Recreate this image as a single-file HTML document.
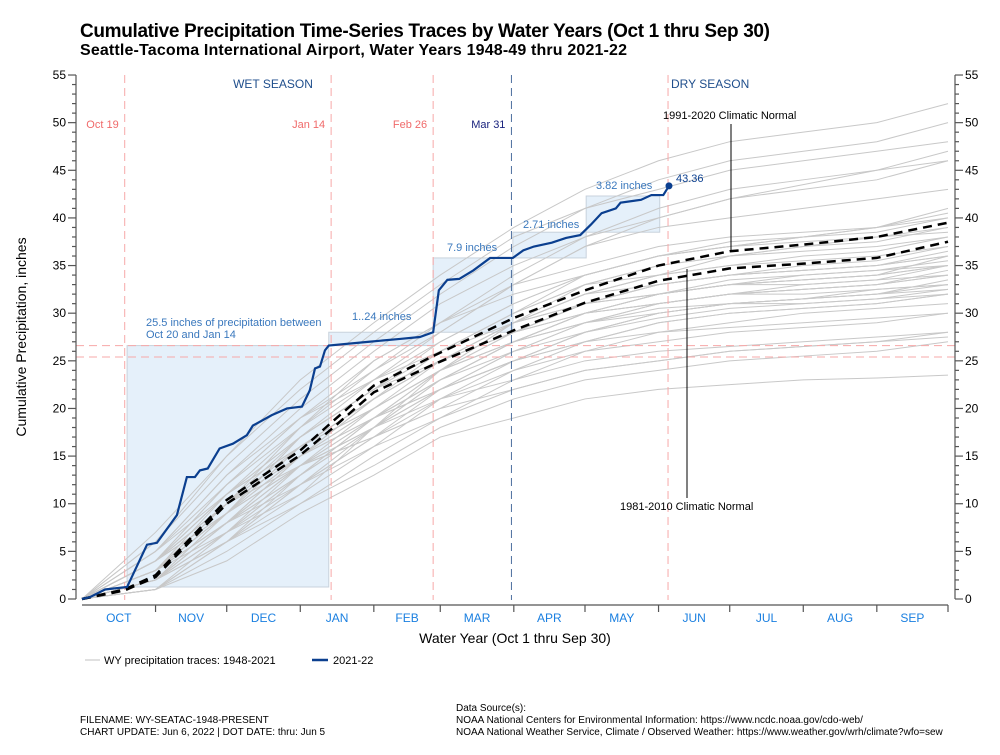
<!DOCTYPE html>
<html><head><meta charset="utf-8">
<style>
html,body{margin:0;padding:0;background:#fff;}
body{width:1000px;height:750px;overflow:hidden;font-family:"Liberation Sans",Arial,sans-serif;}
svg text{font-family:"Liberation Sans",Arial,sans-serif;}
</style></head>
<body>
<svg id="chart" width="1000" height="750" xmlns="http://www.w3.org/2000/svg">
<text x="80" y="37" font-size="19" font-weight="bold" textLength="690">Cumulative Precipitation Time-Series Traces by Water Years (Oct 1 thru Sep 30)</text>
<text x="80" y="55" font-size="16" font-weight="bold" textLength="547">Seattle-Tacoma International Airport, Water Years 1948-49 thru 2021-22</text>
<text transform="translate(26,337) rotate(-90)" text-anchor="middle" font-size="14">Cumulative Precipitation, inches</text>
<text x="515" y="643" text-anchor="middle" font-size="14">Water Year (Oct 1 thru Sep 30)</text>
<g id="layer"></g>
<g>
<line x1="85" y1="660" x2="100" y2="660" stroke="#ccc" stroke-width="1.2"/>
<text x="104" y="664" font-size="11">WY precipitation traces: 1948-2021</text>
<line x1="312" y1="660" x2="328" y2="660" stroke="#0b3f8f" stroke-width="2.5"/>
<text x="333" y="664" font-size="11">2021-22</text>
</g>
<g font-size="10">
<text x="80" y="723">FILENAME: WY-SEATAC-1948-PRESENT</text>
<text x="80" y="735">CHART UPDATE: Jun 6, 2022 | DOT DATE: thru: Jun 5</text>
<text x="456" y="711">Data Source(s):</text>
<text x="456" y="723">NOAA National Centers for Environmental Information: https://www.ncdc.noaa.gov/cdo-web/</text>
<text x="456" y="735">NOAA National Weather Service, Climate / Observed Weather: https://www.weather.gov/wrh/climate?wfo=sew</text>
</g>
</svg>
<script>
const monthDays = [0,31,61,92,123,151,182,212,243,273,304,335,365];
const monthLabels = ["OCT","NOV","DEC","JAN","FEB","MAR","APR","MAY","JUN","JUL","AUG","SEP"];
const yTicks = [0,5,10,15,20,25,30,35,40,45,50,55];
const grayTraces = [
[0,4,11,17,22,26,30,33,35,36,37,38,39],
[0,2,6,12,17,21,24,26,27,28,28.5,29,30],
[0,5,13,20,26,31,35,38,40,42,43,44,46],
[0,3,9,15,20,24,27,29,31,32,32.5,33,34],
[0,1,5,10,14,18,21,23,24,25,25.5,26,27],
[0,6,14,21,27,32,37,41,44,46,47,48,50],
[0,3,8,13,19,23,27,30,31,32,33,33.5,35],
[0,2,7,13,18,21,23,25,26,26.5,27,27.5,28],
[0,4,10,18,25,29,33,35,37,38,38.5,39,40],
[0,3,10,16,21,25,29,32,33,34,34.5,35,36],
[0,2,8,14,18,23,27,30,31,32,32,32.5,33],
[0,5,12,19,25,29,32,34,36,37,37.5,38,38.5],
[0,1,4,9,13,17,19,21,22,22.5,23,23.2,23.5],
[0,4,12,18,24,28,33,37,39,40,41,42,43],
[0,3,9,14,20,25,29,31,32,33,33.5,34,35],
[0,2,9,17,22,25,28,30,32,33,33,33.5,34],
[0,7,15,22,28,33,38,41,43,45,46,47,48],
[0,3,7,12,17,22,26,29,30.5,31,31.5,32,32.5],
[0,2,8,15,21,26,30,34,36,37,38,39,41],
[0,4,11,16,20,24,28,31,32,33,33.5,34,36],
[0,3,8,12,16,19,22,24,25,26,26.5,27,28],
[0,5,13,19,24,29,34,38,41,43,44,45,47],
[0,1,6,13,19,23,26,28,30,31,31.5,32,33],
[0,3,10,15,19,24,27,29,30,31,31,31.5,32],
[0,4,9,17,23,28,33,37,40,42,43.5,45,46],
[0,2,6,10,15,19,23,26,28,29,30,30.5,31],
[0,6,15,23,29,34,39,43,46,48,49,50,52],
[0,3,9,14,18,22,25,27,28,28.5,29,29.5,30],
[0,2,7,11,18,24,29,32,34,36,37,37.5,39],
[0,4,10,14,17,20,22,24,25,26,26.5,27,27.5],
[0,3,9,15,19,23,27,30,32,33,34,34.5,35.5],
[0,2,8,13,18,22,26,29,31,32,32.5,33,34],
[0,4,10,15,21,25,28,31,33,34,35,35.5,37],
[0,3,8,14,19,22,25,28,30,31,31.5,32,33.5],
[0,2,9,16,20,24,27,30,32,33.5,34,34.5,35],
[0,3,11,17,22,26,30,33,34,35,35.5,36,37],
[0,1,7,14,19,22,25,27,29,30,30.5,31,32],
[0,4,9,14,18,22,25,28,29.5,30.5,31,31.5,32.5],
[0,2,7,13,19,24,28,31,33,34,34.5,35,36.5],
[0,3,10,17,22,27,31,34,36,37,38,38.5,40],
[0,5,11,16,21,25,29,32,34,35,36,36.5,38],
[0,2,6,12,18,23,27,30,32,33,33.5,34,35],
[0,3,9,16,21,25,28,30,31,32,32.5,33,34.5],
[0,4,12,19,23,27,31,34,36,37.5,38,39,40.5],
[0,1,6,11,16,21,25,28,30,31,31.5,32.5,33],
[0,3,8,15,20,24,29,33,35,36,36.5,37,38],
[0,2,8,14,17,20,24,27,29,30,30.5,31,32],
[0,4,11,18,23,26,29,31,33,34,34.5,35,36]
];
const normDays = [0,18,31,61,92,105,123,148,182,212,243,273,304,335,365];
const normal1991 = [0,1.0,2.5,10.4,15.6,18.5,22.4,25.5,29.5,32.4,35.0,36.5,37.2,38.0,39.5];
const normal1981 = [0,0.9,2.3,10.0,15.1,17.8,21.7,24.6,28.2,31.1,33.4,34.7,35.2,35.8,37.5];
const wyDays = [0,3.4,9.7,19,27.4,31.6,40,44.2,47.6,49.7,53,58,63.6,69.5,72,80,86.4,92.7,96,98.2,100.3,102.4,104,121,134,142.4,148,150.4,154,159,165,172,181.6,186,190.5,198,204,210,214.5,219,225,227,235.6,240,245,247.4];
const wyValues = [0,0.2,1.0,1.26,5.7,5.9,8.8,12.8,12.8,13.5,13.7,15.8,16.3,17.2,18.2,19.3,20.0,20.2,21.9,24.2,24.4,26.1,26.6,27.0,27.3,27.5,28.0,32.4,33.5,33.6,34.5,35.8,35.8,36.6,37.0,37.4,37.9,38.2,39.3,40.5,41.0,41.6,41.9,42.4,42.4,43.36];
const markerDays = [18,105,148,181,247];
const markerLabels = ["Oct 19","Jan 14","Feb 26","Mar 31",""];

const X0=82, X1=948, Y0=599, PXI=9.527;
const x = d => X0 + d*(X1-X0)/365;
const y = v => Y0 - v*PXI;
const NS="http://www.w3.org/2000/svg";
const layer=document.getElementById('layer');
function mk(tag, attrs, parent){const e=document.createElementNS(NS,tag);for(const k in attrs)e.setAttribute(k,attrs[k]);(parent||layer).appendChild(e);return e;}
function txt(s, attrs, parent){const e=mk('text',attrs,parent);e.textContent=s;return e;}

const rects=[[19,104,1.26,26.6],[104,148,26.6,28.0],[148,181.6,28.0,35.8],[181.6,212.5,35.8,38.5],[212.5,243.5,38.5,42.3]];
rects.forEach((r,i)=>{
 const e=mk('rect',{x:x(r[0]),y:y(r[3]),width:x(r[1])-x(r[0]),height:y(r[2])-y(r[3]),fill:'rgba(170,205,240,0.3)',stroke:'#c8d2dc','stroke-width':1});
 
 
});

grayTraces.forEach(t=>{
 const e=mk('polyline',{points:t.map((v,i)=>x(monthDays[i])+','+y(v)).join(' '),fill:'none',stroke:'#c8c8c8','stroke-width':1});
 
 
});

[26.6,25.4].forEach(v=>{
 const e=mk('line',{x1:76,x2:955,y1:y(v),y2:y(v),stroke:'#f7a8a8','stroke-dasharray':'8,5','stroke-width':1});
 
 
});
markerDays.forEach((d,i)=>{
 const navy = i===3;
 const e=mk('line',{x1:x(d),x2:x(d),y1:75,y2:600,stroke:navy?'#4d6f9e':'#f7a8a8','stroke-dasharray':'8,5','stroke-width':1});
 
 
 if(markerLabels[i]){
  const t=txt(markerLabels[i],{x:x(d)-6,y:128,'text-anchor':'end','font-size':11,fill:navy?'#1a237e':'#f06a6a'});
  
  
 }
});

[[normal1991,'normal-1991-2020'],[normal1981,'normal-1981-2010']].forEach(n=>{
 const e=mk('polyline',{points:n[0].map((v,i)=>x(normDays[i])+','+y(v)).join(' '),fill:'none',stroke:'#000','stroke-width':2.5,'stroke-dasharray':'9,6'});
 
 
});

const cy=mk('polyline',{points:wyValues.map((v,i)=>x(wyDays[i])+','+y(v)).join(' '),fill:'none',stroke:'#0b3f8f','stroke-width':2.2});


const li=wyValues.length-1;
const dot=mk('circle',{cx:x(wyDays[li]),cy:y(wyValues[li]),r:3.5,fill:'#0b3f8f'});


const dl=txt(wyValues[li].toFixed(2),{x:x(wyDays[li])+7,y:y(wyValues[li])-4,'font-size':11,fill:'#0b3f8f'});



const ann=[["25.5 inches of precipitation between",146,326],["Oct 20 and Jan 14",146,338],["1..24 inches",352,320],["7.9 inches",447,251],["2.71 inches",523,228],["3.82 inches",596,189]];
ann.forEach(a=>{const t=txt(a[0],{x:a[1],y:a[2],'font-size':11,fill:'#3a78bd'});
 
 });
const w=txt("WET SEASON",{x:273,y:88,'text-anchor':'middle','font-size':12,fill:'#1f4e8c'});


const dr=txt("DRY SEASON",{x:671,y:88,'font-size':12,fill:'#1f4e8c'});


const l1=mk('line',{x1:731,x2:731,y1:124,y2:252,stroke:'#000','stroke-width':1});


const t1=txt("1991-2020 Climatic Normal",{x:663,y:119,'font-size':11});


const l2=mk('line',{x1:687,x2:687,y1:269,y2:498,stroke:'#000','stroke-width':1});


const t2=txt("1981-2010 Climatic Normal",{x:620,y:510,'font-size':11});



const ax=mk('g',{stroke:'#555','stroke-width':1.2,fill:'none'});


mk('line',{x1:76,x2:76,y1:y(55),y2:Y0},ax);
mk('line',{x1:955,x2:955,y1:y(55),y2:Y0},ax);
mk('line',{x1:X0,x2:X1,y1:605,y2:605},ax);
for(let v=0;v<=55;v++){
 const len=v%5===0?8:4;
 mk('line',{x1:76-len,x2:76,y1:y(v),y2:y(v)},ax);
 mk('line',{x1:955,x2:955+len,y1:y(v),y2:y(v)},ax);
}
yTicks.forEach(v=>{
 const a=txt(String(v),{x:66,y:y(v)+4,'text-anchor':'end','font-size':12});
 
 
 const b=txt(String(v),{x:965,y:y(v)+4,'font-size':12});
 
 
});
monthDays.forEach((d,i)=>{
 if(i>0) mk('line',{x1:x(d),x2:x(d),y1:605,y2:612},ax);
 if(i<12){
  const t=txt(monthLabels[i],{x:x((d+monthDays[i+1])/2),y:622,'text-anchor':'middle','font-size':12,fill:'#1a7fe0'});
  
  
 }
});
</script>
</body></html>
